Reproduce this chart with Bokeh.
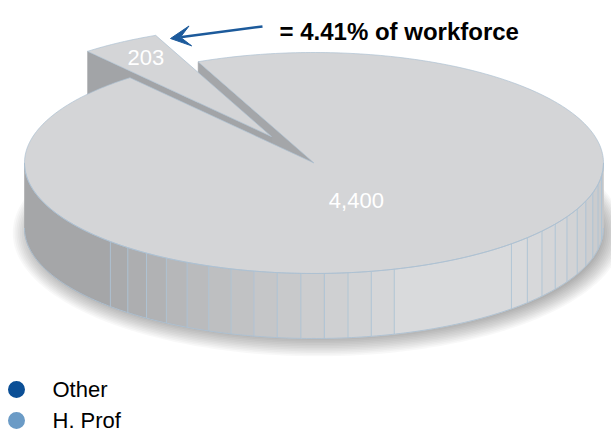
import numpy as np
from bokeh.plotting import figure
from bokeh.models import Range1d, Arrow, VeeHead
from bokeh.core.properties import value
from bokeh.embed import file_html
from bokeh.resources import INLINE

# ---- data ----
categories = ["Other", "H. Prof"]
counts = [4400, 203]
count_labels = ["4,400", "203"]
legend_colors = ["#0b4f96", "#6b9bc6"]
callout_text = "= 4.41% of workforce"

# ---- figure (pixel-like coordinates, y downwards) ----
W, H = 611, 433
p = figure(width=W, height=H, x_range=Range1d(0, W), y_range=Range1d(H, 0),
           output_backend="svg", toolbar_location=None, min_border=0,
           x_axis_location=None, y_axis_location=None)
p.grid.visible = False
p.outline_line_color = None
p.background_fill_color = "white"

FONT = value("Liberation Sans")

# ---- 3D pie geometry ----
cx, cy, a, b, depth = 313.5, 162.5, 289.5, 110.5, 65.0
explode = 0.28
start_deg = 113.6
total = float(sum(counts))
span_small = 360.0 * counts[1] / total
t0 = start_deg                 # small slice start / main slice end
t1 = start_deg + span_small    # small slice end / main slice start
mid_small = (t0 + t1) / 2.0
mid_main = t1 + (360.0 - span_small) / 2.0
ox = explode * a * np.cos(np.radians(mid_small))
oy = -explode * b * np.sin(np.radians(mid_small))


def ell(theta, offx=0.0, offy=0.0, dz=0.0, r=1.0):
    t = np.radians(theta)
    return cx + offx + a * r * np.cos(t), cy + offy - b * r * np.sin(t) + dz


def arc(ta, tb, offx=0.0, offy=0.0, dz=0.0, n=None):
    n = n or max(int(abs(tb - ta)) + 2, 3)
    th = np.linspace(ta, tb, n)
    return ell(th, offx, offy, dz)


# shadow (layered translucent ellipses)
for i in range(12):
    s = i * 1.8
    th = np.linspace(0, 360, 181)
    t = np.radians(th)
    xs = cx + 4 + (a - 4 + s) * np.cos(t)
    ys = cy + depth + 5 - (b - 5 + s * 0.9) * np.sin(t)
    p.patch(list(xs), list(ys), fill_color="black", fill_alpha=0.028, line_color=None)

cut_color = "#a4a6a9"
edge_color = "#adc1d3"
top_color = "#d4d5d7"

# main slice visible cut face (at start angle of small slice)
px0, py0 = ell(t0)
p.patch([cx, px0, px0, cx], [cy, py0, py0 + depth, cy + depth],
        fill_color=cut_color, line_color=cut_color, line_width=0.5)

# small (exploded) slice: visible cut face, then top
px1, py1 = ell(t1, ox, oy)
p.patch([cx + ox, px1, px1, cx + ox], [cy + oy, py1, py1 + depth, cy + oy + depth],
        fill_color="#a2a4a7", line_color="#a2a4a7", line_width=0.5)
sx, sy = arc(t0, t1, ox, oy)
p.patch([cx + ox] + list(sx), [cy + oy] + list(sy),
        fill_color=top_color, line_color=edge_color, line_width=0.7)

# main slice front rim: flat facets between seams
key_t = [180, 225, 246, 270, 286, 313, 335, 360]
key_g = [163, 166, 186, 204, 215, 218, 209, 196]
seams = list(np.linspace(225.3, 286.1, 14)) + list(np.linspace(313.0, 353.3, 10))
bounds = [180.0] + seams + [360.0]
rx, ry, rc = [], [], []
for ta, tb in zip(bounds[:-1], bounds[1:]):
    xt, yt = arc(ta, tb)
    xb, yb = arc(tb, ta, dz=depth)
    rx.append(list(xt) + list(xb))
    ry.append(list(yt) + list(yb))
    g = int(round(np.interp((ta + tb) / 2, key_t, key_g)))
    rc.append("#%02x%02x%02x" % (g, min(g + 1, 255), min(g + 3, 255)))
p.patches(rx, ry, fill_color=rc, line_color=rc, line_width=0.6)

# seams on the rim
seam_x, seam_y = [], []
for th in seams:
    x, y = ell(th)
    seam_x.append([x, x])
    seam_y.append([y, y + depth])
p.multi_line(seam_x, seam_y, line_color="#aec4d6", line_width=0.9)

# main slice top face
mx, my = arc(t1, t0 + 360.0)
p.patch([cx] + list(mx), [cy] + list(my),
        fill_color=top_color, line_color=edge_color, line_width=0.7)

# front edges of the rim
fx, fy = arc(180, 360)
p.line(fx, fy, line_color=edge_color, line_width=0.9)
bx, by = arc(180, 360, dz=depth)
p.line(bx, by, line_color=edge_color, line_width=0.9)

# value labels inside slices
lx_main = cx + a * 0.28 * np.cos(np.radians(mid_main))
ly_main = cy - b * 0.40 * np.sin(np.radians(mid_main))
lx_small = cx + ox + a * 0.83 * np.cos(np.radians(mid_small))
ly_small = cy + oy - b * 0.84 * np.sin(np.radians(mid_small))
p.text(x=[lx_main, lx_small], y=[ly_main, ly_small], text=count_labels,
       text_color="white", text_font=FONT, text_font_size="22px",
       text_align="center", text_baseline="middle")

# callout text and arrow
p.text(x=[279], y=[31], text=[callout_text], text_font=FONT, text_font_size="24px",
       text_font_style="bold", text_color="black", text_align="left",
       text_baseline="alphabetic")
p.add_layout(Arrow(x_start=262, y_start=26, x_end=170, y_end=38,
                   line_color="#1c5a9b", line_width=2.5,
                   end=VeeHead(size=20, fill_color="#1c5a9b", line_color="#1c5a9b")))

# legend
leg_y = [389 + 31 * i for i in range(len(categories))]
p.scatter(x=[16] * len(categories), y=leg_y, size=17, marker="circle",
          fill_color=legend_colors, line_color=None)
p.text(x=[52] * len(categories), y=leg_y, text=categories, text_font=FONT,
       text_font_size="22px", text_color="black", text_baseline="middle",
       text_align="left")

open("out.html", "w").write(file_html(p, INLINE))
